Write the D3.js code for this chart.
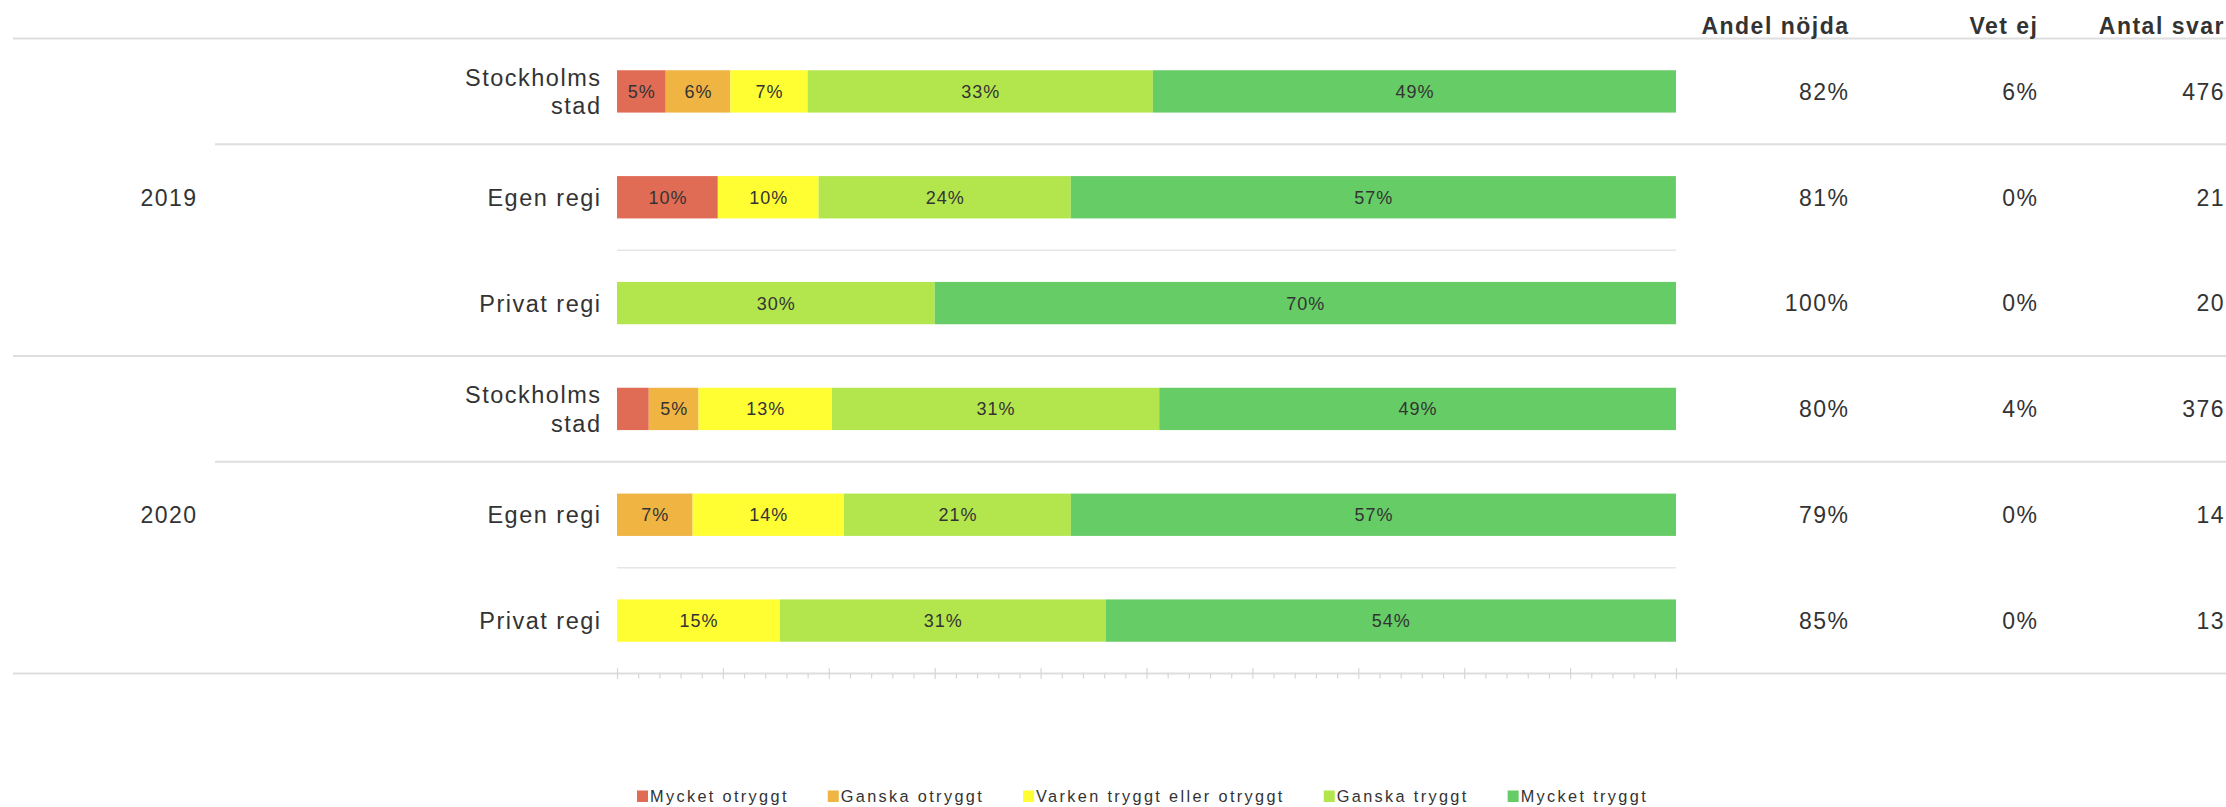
<!DOCTYPE html>
<html>
<head>
<meta charset="utf-8">
<script src="https://cdn.jsdelivr.net/npm/d3@7/dist/d3.min.js"></script>
<style>
  html, body { margin: 0; padding: 0; background: #fff; }
  svg { display: block; font-family: "Liberation Sans", Arial, sans-serif; }
</style>
</head>
<body>
<svg id="chart" width="2226" height="807"></svg>
<script>
// ---------- data ----------
const years = ["2019", "2020"];
const groups = ["Stockholms stad", "Egen regi", "Privat regi"];
const categories = ["Mycket otryggt", "Ganska otryggt", "Varken tryggt eller otryggt", "Ganska tryggt", "Mycket tryggt"];
const colors = ["#E16C56", "#F0B443", "#FEFE33", "#B3E64D", "#66CC66"];
// rows: 2019 Stockholms stad, Egen regi, Privat regi, 2020 Stockholms stad, Egen regi, Privat regi
const mycketOtryggt = [4.6, 9.52, 0, 3.0, 0, 0];
const ganskaOtryggt = [6.1, 0, 0, 4.7, 7.14, 0];
const varkenTryggt  = [7.3, 9.52, 0, 12.6, 14.29, 15.38];
const ganskaTryggt  = [32.6, 23.81, 30, 30.9, 21.43, 30.77];
const mycketTryggt  = [49.4, 57.14, 70, 48.8, 57.14, 53.85];
const andelNojda = [82, 81, 100, 80, 79, 85];
const vetEj = [6, 0, 0, 4, 0, 0];
const antalSvar = [476, 21, 20, 376, 14, 13];
const columnHeaders = ["Andel nöjda", "Vet ej", "Antal svar"];

// ---------- build rows ----------
const series = [mycketOtryggt, ganskaOtryggt, varkenTryggt, ganskaTryggt, mycketTryggt];
const rows = [];
years.forEach((yr, yi) => groups.forEach((g, gi) => {
  const i = yi * groups.length + gi;
  rows.push({ id: yr + "|" + g, year: yr, group: g, gi, i,
    values: series.map(s => s[i]) });
}));

const svg = d3.select("#chart");
const W = 2226;
const TXT = "#333";

const x = d3.scaleLinear().domain([0, 100]).range([617, 1676]);
const y = d3.scaleBand().domain(rows.map(r => r.id)).range([38.5, 673.5])
  .paddingInner(0.6).paddingOuter(0.3);
const step = y.step();
const rowTop = r => y(r.id) - (step - y.bandwidth()) / 2;
const rowMid = r => y(r.id) + y.bandwidth() / 2;

// ---------- separator lines ----------
const lines = svg.append("g");
function hline(yy, x1, x2, col, w) {
  lines.append("line").attr("x1", x1).attr("x2", x2).attr("y1", yy).attr("y2", yy)
    .attr("stroke", col).attr("stroke-width", w);
}
hline(38.5, 13, W, "#dedede", 2);
rows.forEach(r => {
  if (r.i === 0) return;
  const yy = rowTop(r);
  if (r.gi === 0) hline(yy, 13, W, "#dedede", 2);
  else if (r.gi === 1) hline(yy, 215, W, "#dedede", 2);
  else hline(yy, x(0), x(100), "#e6e6e6", 1.5);
});

// ---------- axis (bottom) ----------
const axisY = 673.5;
hline(axisY, 13, W, "#dedede", 2);
const axisG = svg.append("g").attr("transform", `translate(0,${axisY - 5.5})`);
axisG.call(d3.axisBottom(x).tickValues(d3.range(0, 101, 10)).tickSize(11).tickFormat(""));
axisG.select(".domain").remove();
axisG.selectAll(".tick line").attr("stroke", "#d6d6d6").attr("stroke-width", 1.2);
const minorG = svg.append("g").attr("transform", `translate(0,${axisY})`);
minorG.call(d3.axisBottom(x).tickValues(d3.range(0, 101, 2).filter(v => v % 10 !== 0)).tickSize(5).tickFormat(""));
minorG.select(".domain").remove();
minorG.selectAll(".tick line").attr("stroke", "#d6d6d6").attr("stroke-width", 1.2);

// ---------- bars ----------
const stacked = d3.stack().keys(d3.range(categories.length)).value((d, k) => d.values[k])(rows);
const barG = svg.append("g");
stacked.forEach((layer, k) => {
  layer.forEach((seg, ri) => {
    const r = rows[ri];
    const w = x(seg[1]) - x(seg[0]);
    if (w <= 0) return;
    barG.append("rect")
      .attr("x", x(seg[0])).attr("y", y(r.id))
      .attr("width", w).attr("height", y.bandwidth())
      .attr("fill", colors[k]);
  });
});
// segment labels
stacked.forEach((layer, k) => {
  layer.forEach((seg, ri) => {
    const r = rows[ri];
    const w = x(seg[1]) - x(seg[0]);
    if (w <= 0) return;
    const t = barG.append("text")
      .attr("x", (x(seg[0]) + x(seg[1])) / 2 + 0.5)
      .attr("y", rowMid(r))
      .attr("dy", "0.36em")
      .attr("text-anchor", "middle")
      .attr("font-size", 18).attr("letter-spacing", 1)
      .attr("fill", TXT)
      .text(Math.round(r.values[k]) + "%");
    if (t.node().getComputedTextLength() + 8 > w) t.remove();
  });
});

// ---------- category labels ----------
const labG = svg.append("g");
rows.forEach(r => {
  const t = labG.append("text")
    .attr("text-anchor", "end").attr("font-size", 23.5).attr("letter-spacing", 1.5)
    .attr("fill", TXT).attr("x", 601.5).attr("y", rowMid(r)).attr("dy", "0.36em")
    .text(r.group);
  if (t.node().getComputedTextLength() > 160) {
    const words = r.group.split(" ");
    t.text(null);
    const lh = 28.3;
    const n = words.length;
    words.forEach((wd, j) => {
      t.append("tspan").attr("x", 601.5)
        .attr("y", rowMid(r) + (j - (n - 1) / 2) * lh).attr("dy", "0.36em").text(wd);
    });
  }
});

// ---------- year labels ----------
years.forEach((yr, yi) => {
  const mid = rows.filter(r => r.year === yr);
  const cy = (rowTop(mid[0]) + rowTop(mid[mid.length - 1]) + step) / 2;
  labG.append("text").attr("x", 140.5).attr("y", cy).attr("dy", "0.36em")
    .attr("font-size", 23).attr("letter-spacing", 1.5).attr("fill", TXT).text(yr);
});

// ---------- right-hand columns ----------
const colX = [1849.5, 2038.5, 2225];
const colG = svg.append("g");
columnHeaders.forEach((h, c) => {
  colG.append("text").attr("x", colX[c]).attr("y", 34.3).attr("text-anchor", "end")
    .attr("font-size", 23).attr("font-weight", "bold").attr("letter-spacing", 1.5)
    .attr("fill", TXT).text(h);
});
const colVals = [andelNojda.map(v => v + "%"), vetEj.map(v => v + "%"), antalSvar.map(String)];
rows.forEach(r => {
  colVals.forEach((vals, c) => {
    colG.append("text").attr("x", colX[c]).attr("y", rowMid(r)).attr("dy", "0.36em")
      .attr("text-anchor", "end").attr("font-size", 23).attr("letter-spacing", 1.5)
      .attr("fill", TXT).text(vals[r.i]);
  });
});

// ---------- legend ----------
const legG = svg.append("g");
let lx = 0;
const gap = 39;
categories.forEach((c, k) => {
  const g = legG.append("g").attr("transform", `translate(${lx},0)`);
  g.append("rect").attr("x", 0).attr("y", -6).attr("width", 11).attr("height", 11.5)
    .attr("fill", colors[k]);
  const t = g.append("text").attr("x", 13).attr("y", 0).attr("dy", "0.36em")
    .attr("font-size", 16.3).attr("letter-spacing", 2.35).attr("fill", TXT).text(c);
  lx += 13 + t.node().getComputedTextLength() + gap;
});
const totalW = lx - gap;
legG.attr("transform", `translate(${1142.5 - totalW / 2},796.5)`);
</script>
</body>
</html>
